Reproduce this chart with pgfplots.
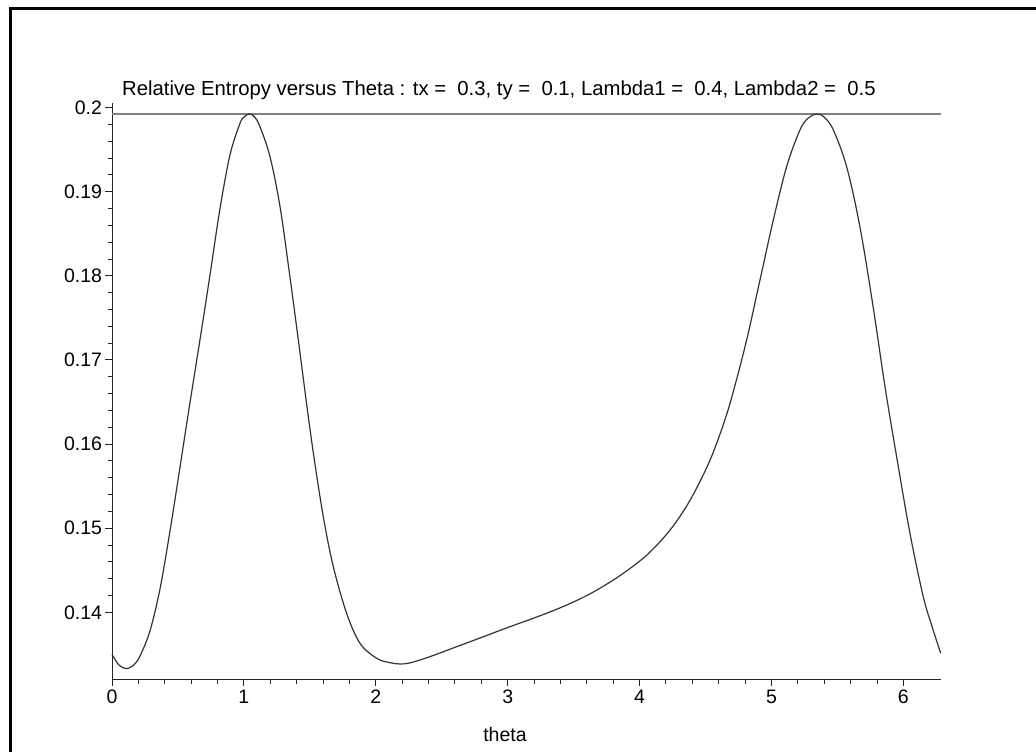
\documentclass[border=0pt]{standalone}
\usepackage{fontspec}
\setmainfont{Liberation Sans}
\usepackage{pgfplots}
\pgfplotsset{compat=1.18}
\begin{document}
\begin{tikzpicture}[x=1pt,y=1pt]
\useasboundingbox (0,0) rectangle (1036,752);
\fill[white] (0,0) rectangle (1036,752);
\draw[line width=3pt] (10.5,-10) -- (10.5,743.5) -- (1050,743.5);
\begin{axis}[
  at={(112pt,72.3pt)}, anchor=south west,
  scale only axis, width=828.7pt, height=576.4pt,
  xmin=0, xmax=6.2832, ymin=0.132, ymax=0.2005,
  axis lines*=left, axis line style={-, line width=1pt, black!85},
  xtick={0,1,2,3,4,5,6}, xticklabels={0,1,2,3,4,5,6},
  ytick={0.14,0.15,0.16,0.17,0.18,0.19,0.2},
  yticklabels={0.14,0.15,0.16,0.17,0.18,0.19,0.2},
  minor x tick num=4, minor y tick num=4,
  tick align=outside, major tick length=6.5pt, minor tick length=4pt,
  every tick/.style={black!85, line width=0.9pt},
  ticklabel style={font=\fontsize{19.5}{23}\selectfont},
  clip=false,
]
\addplot[black!50, line width=1.2pt] coordinates {(0,0.19923) (6.2832,0.19923)};
\addplot[black!80, line width=1.2pt, smooth, tension=0.55] coordinates {
(0.000,0.13502) (0.050,0.13379) (0.106,0.13331) (0.162,0.13370) (0.212,0.13480)
(0.288,0.13780) (0.364,0.14280) (0.440,0.14970) (0.516,0.15730) (0.579,0.16370)
(0.667,0.17240) (0.743,0.18010) (0.819,0.18800) (0.895,0.19440) (0.970,0.19810)
(1.000,0.19886) (1.041,0.19923) (1.080,0.19890) (1.122,0.19772) (1.198,0.19415)
(1.274,0.18821) (1.349,0.17989) (1.425,0.17090) (1.471,0.16532) (1.526,0.15900)
(1.602,0.15137) (1.678,0.14543) (1.779,0.13989) (1.880,0.13633) (2.007,0.13454)
(2.108,0.13402) (2.183,0.13387) (2.260,0.13400) (2.411,0.13474) (2.613,0.13592)
(2.815,0.13710) (2.997,0.13818) (3.220,0.13945) (3.422,0.14070) (3.624,0.14220)
(3.826,0.14410) (4.003,0.14612) (4.100,0.14749) (4.206,0.14930) (4.300,0.15126)
(4.407,0.15400) (4.534,0.15808) (4.635,0.16232) (4.706,0.16596) (4.812,0.17238)
(4.913,0.17950) (5.014,0.18663) (5.115,0.19297) (5.216,0.19733) (5.280,0.19876)
(5.343,0.19923) (5.400,0.19885) (5.469,0.19733) (5.570,0.19297) (5.671,0.18580)
(5.772,0.17620) (5.861,0.16680) (5.949,0.15850) (6.050,0.14940) (6.151,0.14187)
(6.220,0.13820) (6.2832,0.13514)
};
\end{axis}
\node[anchor=west, inner sep=0pt, font=\fontsize{20.3}{24}\selectfont] at (122,662)
  {Relative Entropy versus Theta : tx = \ 0.3, ty = \ 0.1, Lambda1 = \ 0.4, Lambda2 = \ 0.5};
\node[font=\fontsize{19.5}{23}\selectfont] at (505,17) {theta};
\end{tikzpicture}
\end{document}
